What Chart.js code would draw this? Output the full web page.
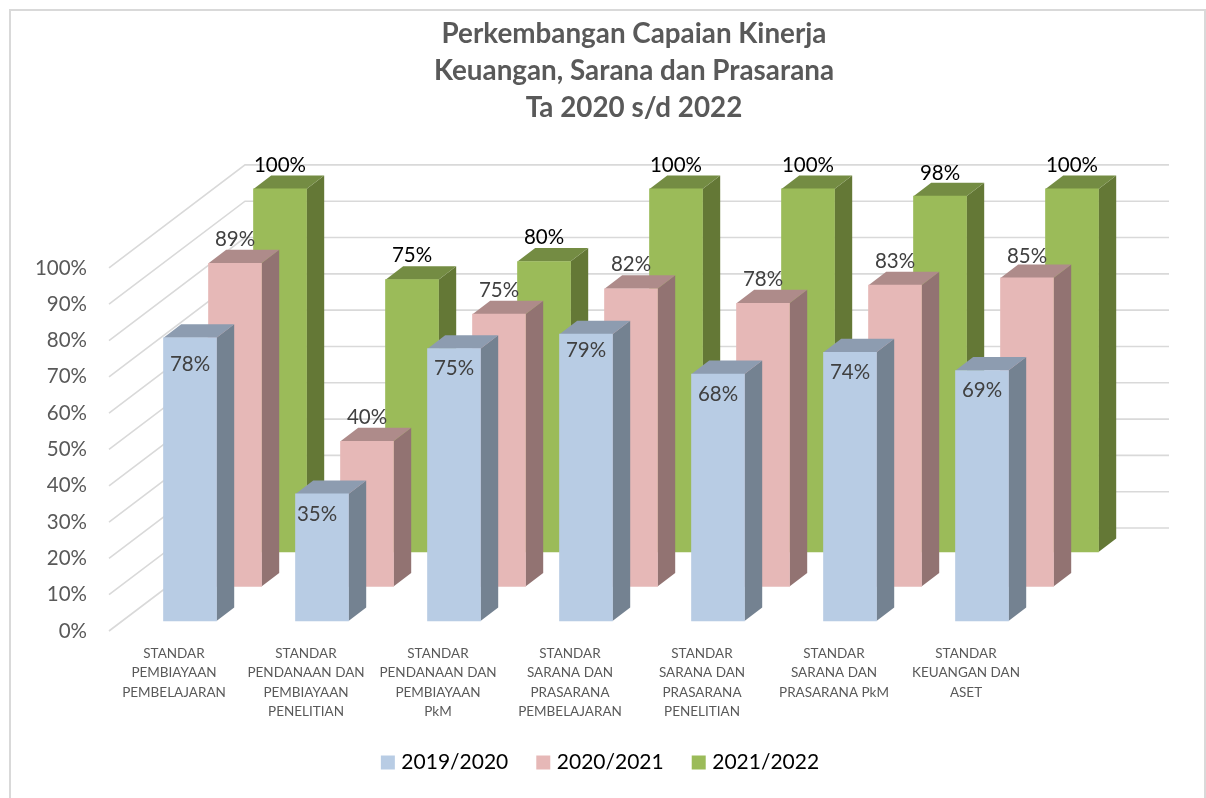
<!DOCTYPE html>
<html>
<head>
<meta charset="utf-8">
<style>
	html, body { margin: 0; padding: 0; background: #fff; }
	canvas { display: block; }
</style>
<script src="https://cdn.jsdelivr.net/npm/chart.js@4"></script>
</head>
<body>
<canvas id="chart" width="1206" height="798"></canvas>
<script>
const titleLines = ['Perkembangan Capaian Kinerja', 'Keuangan, Sarana dan Prasarana', 'Ta 2020 s/d 2022'];
const categories = [
	['STANDAR', 'PEMBIAYAAN', 'PEMBELAJARAN'],
	['STANDAR', 'PENDANAAN DAN', 'PEMBIAYAAN', 'PENELITIAN'],
	['STANDAR', 'PENDANAAN DAN', 'PEMBIAYAAN', 'PkM'],
	['STANDAR', 'SARANA DAN', 'PRASARANA', 'PEMBELAJARAN'],
	['STANDAR', 'SARANA DAN', 'PRASARANA', 'PENELITIAN'],
	['STANDAR', 'SARANA DAN', 'PRASARANA PkM'],
	['STANDAR', 'KEUANGAN DAN', 'ASET']
];
const seriesNames = ['2019/2020', '2020/2021', '2021/2022'];
const values2019 = [78, 35, 75, 79, 68, 74, 69];
const values2020 = [89, 40, 75, 82, 78, 83, 85];
const values2021 = [100, 75, 80, 100, 100, 98, 100];

const FONT = 'Lato';
const GREY = '#595959';

// look of each series: front, top and side face, depth offset on the floor
const looks = [
	{ front: '#B8CCE4', top: '#8D9CB0', side: '#748291', dx: 16, dy: -10, label: '#404040', labelY: 20 },
	{ front: '#E6B8B7', top: '#AE8B8A', side: '#927372', dx: 61, dy: -44.5, label: '#404040', labelY: -24 },
	{ front: '#9BBB59', top: '#748C43', side: '#647836', dx: 106, dy: -79, label: '#000000', labelY: -24 }
];
const barDepth = { x: 17.7, y: -13.5 };
const wall = { x: 136, y: -103, right: 1169 };
// labels that sit away from the usual place, dataset:index -> [x, y]
const labelNudge = { '0:0': [0, 7], '0:1': [-5, 0], '0:3': [0, -4], '1:6': [0, 3], '2:5': [0, 1] };

function polygon(ctx, color, pts) {
	ctx.fillStyle = color;
	ctx.beginPath();
	pts.forEach((p, i) => i ? ctx.lineTo(p[0], p[1]) : ctx.moveTo(p[0], p[1]));
	ctx.closePath();
	ctx.fill();
}

const fakeDepth = {
	id: 'fakeDepth',
	afterLayout(chart) {
		// title and legend are not centred on the canvas in the original
		chart.titleBlock.left = 62;
		chart.titleBlock.right = 1206;
		chart.legend.left = 0;
		chart.legend.right = 1204;
		chart.legend.top -= 3;
		chart.legend.bottom -= 3;
	},
	beforeDraw(chart) {
		const ctx = chart.ctx;
		ctx.save();
		ctx.strokeStyle = '#D9D9D9';
		ctx.lineWidth = 2;
		ctx.strokeRect(10, 10, 1195, 900);
		ctx.restore();
	},
	beforeDatasetsDraw(chart) {
		const ctx = chart.ctx;
		const y = chart.scales.y;
		const left = chart.chartArea.left + 1;
		ctx.save();
		ctx.strokeStyle = '#D9D9D9';
		ctx.lineWidth = 1.6;
		y.ticks.forEach((tick) => {
			const py = y.getPixelForValue(tick.value);
			ctx.beginPath();
			ctx.moveTo(left, py);
			ctx.lineTo(left + wall.x, py + wall.y);
			ctx.lineTo(wall.right, py + wall.y);
			ctx.stroke();
		});
		ctx.restore();
	},
	beforeDatasetDraw(chart, args) {
		const ctx = chart.ctx;
		const look = looks[args.index];
		ctx.save();
		ctx.translate(look.dx, look.dy);
		args.meta.data.forEach((bar) => {
			const l = bar.x - bar.width / 2;
			const r = bar.x + bar.width / 2;
			polygon(ctx, look.side, [[r, bar.y], [r + barDepth.x, bar.y + barDepth.y], [r + barDepth.x, bar.base + barDepth.y], [r, bar.base]]);
			polygon(ctx, look.top, [[l, bar.y], [l + barDepth.x, bar.y + barDepth.y], [r + barDepth.x, bar.y + barDepth.y], [r, bar.y]]);
		});
	},
	afterDatasetDraw(chart) {
		chart.ctx.restore();
	},
	afterDatasetsDraw(chart) {
		const ctx = chart.ctx;
		ctx.save();
		ctx.font = '20.5px ' + FONT;
		ctx.textAlign = 'center';
		ctx.textBaseline = 'middle';
		chart.data.datasets.forEach((ds, d) => {
			const look = looks[d];
			chart.getDatasetMeta(d).data.forEach((bar, i) => {
				const nudge = labelNudge[d + ':' + i] || [0, 0];
				ctx.fillStyle = look.label;
				ctx.fillText(ds.data[i] + '%', bar.x + look.dx + nudge[0], bar.y + look.dy + look.labelY + nudge[1]);
			});
		});
		ctx.restore();
	}
};

new Chart(document.getElementById('chart'), {
	type: 'bar',
	plugins: [fakeDepth],
	data: {
		labels: categories,
		datasets: [values2019, values2020, values2021].map((values, i) => ({
			label: seriesNames[i],
			data: values,
			backgroundColor: looks[i].front,
			borderWidth: 0,
			barThickness: 53,
			grouped: false,
			clip: false
		}))
	},
	options: {
		responsive: false,
		animation: false,
		devicePixelRatio: 1,
		layout: { padding: { left: 10, right: 174, top: 0, bottom: 12 } },
		scales: {
			x: {
				grid: { display: false, drawTicks: false },
				border: { display: false },
				afterFit(scale) { scale.height = 92; },
				ticks: {
					autoSkip: false,
					maxRotation: 0,
					padding: 13,
					color: GREY,
					font: { family: FONT, size: 13.5, lineHeight: 1.43 }
				}
			},
			y: {
				min: 0,
				max: 100,
				grid: { display: false, drawTicks: false },
				border: { display: false },
				afterFit(scale) { scale.width = 98; },
				ticks: {
					stepSize: 10,
					padding: 21,
					color: GREY,
					font: { family: FONT, size: 20.5 },
					callback: (v) => v + '%'
				}
			}
		},
		plugins: {
			tooltip: { enabled: false },
			title: {
				display: true,
				text: titleLines,
				color: GREY,
				font: { family: FONT, size: 27.8, weight: 'bold', lineHeight: 1.33 },
				padding: { top: 16, bottom: 141 }
			},
			legend: {
				position: 'bottom',
				labels: {
					color: GREY,
					font: { family: FONT, size: 21 },
					boxWidth: 6,
					boxHeight: 6,
					padding: 32,
					// the swatch is a small box with a thick edge so that it stays close to its text
					generateLabels(chart) {
						return chart.data.datasets.map((ds, i) => ({
							text: ds.label,
							fillStyle: ds.backgroundColor,
							strokeStyle: ds.backgroundColor,
							lineWidth: 8,
							datasetIndex: i
						}));
					}
				}
			}
		}
	}
});
</script>
</body>
</html>
